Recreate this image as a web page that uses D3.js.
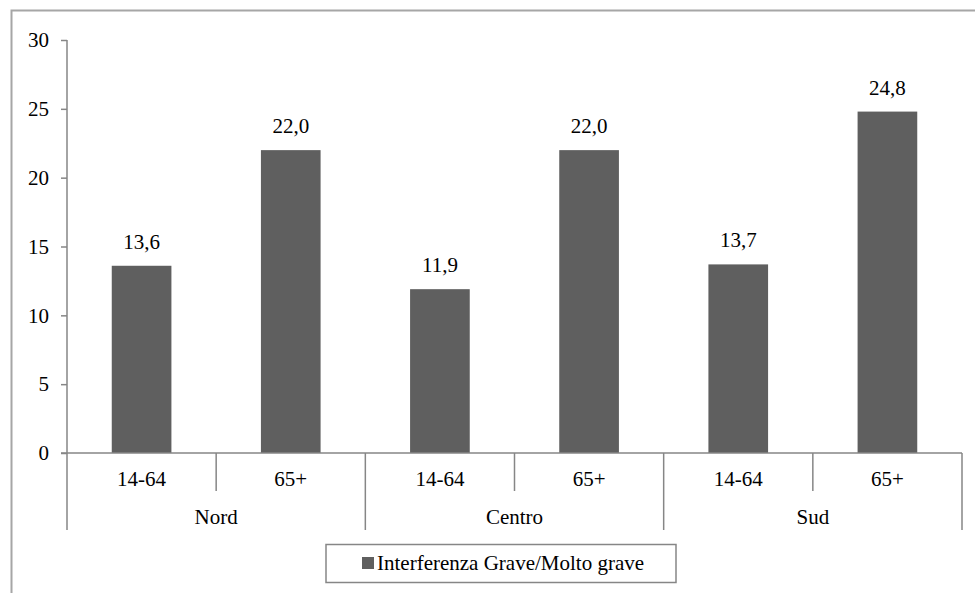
<!DOCTYPE html>
<html>
<head>
<meta charset="utf-8">
<script src="https://cdn.jsdelivr.net/npm/d3@7"></script>
<style>
    body { margin: 0; background: #fff; }
</style>
</head>
<body>
<div class="chart-main"></div>
<script>
//////////
// DATA //
//////////

var groups = ['Nord', 'Centro', 'Sud'];
var ages = ['14-64', '65+'];
var values = [13.6, 22.0, 11.9, 22.0, 13.7, 24.8];
var yTicks = [0, 5, 10, 15, 20, 25, 30];
var seriesName = 'Interferenza Grave/Molto grave';

var FONT = '"Liberation Serif", "Times New Roman", serif';
var FS = '21px';

////////////////
// INITIALIZE //
////////////////

function drawChart() {

    var w = 975,
        h = 593;

    var svg = d3.select('.chart-main')
        .append('svg')
        .attr('width', w)
        .attr('height', h)
        .style('font-family', FONT);

    // outer frame (cut off at right and bottom, as in the source)
    svg.append('rect')
        .attr('x', 11.5)
        .attr('y', 10.5)
        .attr('width', w + 20)
        .attr('height', h + 20)
        .attr('fill', 'none')
        .attr('stroke', '#a6a6a6')
        .attr('stroke-width', 2);

    var left = 67, right = 962, plotTop = 40, zero = 453;

    var cats = [];
    groups.forEach(function(g) {
        ages.forEach(function(a) { cats.push(g + '|' + a); });
    });

    ////////////
    // SCALES //
    ////////////

    var xScale = d3.scaleBand()
        .domain(cats)
        .range([left, right]);

    var yScale = d3.scaleLinear()
        .domain([0, 30])
        .range([zero, plotTop]);

    var axisColor = '#868686';

    //////////
    // BARS //
    //////////

    var barW = xScale.bandwidth() * 0.4;

    svg.selectAll('.bar')
        .data(values)
        .enter()
        .append('rect')
        .attr('class', 'bar')
        .attr('x', function(d, i) { return xScale(cats[i]) + (xScale.bandwidth() - barW) / 2; })
        .attr('y', function(d) { return yScale(d); })
        .attr('width', barW)
        .attr('height', function(d) { return zero - yScale(d); })
        .attr('fill', '#5f5f5f');

    svg.selectAll('.val')
        .data(values)
        .enter()
        .append('text')
        .attr('class', 'val')
        .attr('x', function(d, i) { return xScale(cats[i]) + xScale.bandwidth() / 2; })
        .attr('y', function(d) { return yScale(d) - 17; })
        .attr('text-anchor', 'middle')
        .style('font-size', FS)
        .style('font-family', FONT)
        .text(function(d) { return d.toFixed(1).replace('.', ','); });

    //////////
    // AXIS //
    //////////

    var yAxis = d3.axisLeft(yScale)
        .tickValues(yTicks)
        .tickSize(6)
        .tickPadding(12)
        .tickFormat(d3.format('d'));

    var gy = svg.append('g')
        .attr('transform', 'translate(' + left + ',0)')
        .call(yAxis);

    gy.select('.domain').remove();
    gy.selectAll('line').attr('stroke', axisColor).attr('stroke-width', 1.5);
    gy.selectAll('text')
        .attr('fill', '#000')
        .style('font-size', FS)
        .style('font-family', FONT);

    // vertical axis line down to bottom of group labels
    svg.append('line')
        .attr('x1', left).attr('x2', left)
        .attr('y1', plotTop).attr('y2', 530)
        .attr('stroke', axisColor).attr('stroke-width', 1.5);

    // baseline
    svg.append('line')
        .attr('x1', left - 6).attr('x2', right)
        .attr('y1', zero).attr('y2', zero)
        .attr('stroke', axisColor).attr('stroke-width', 1.5);

    // separators between categories
    cats.forEach(function(c, i) {
        var x = xScale(c) + xScale.bandwidth();
        var isGroupEnd = (i % ages.length) === ages.length - 1;
        svg.append('line')
            .attr('x1', x).attr('x2', x)
            .attr('y1', zero).attr('y2', isGroupEnd ? 530 : 491)
            .attr('stroke', axisColor).attr('stroke-width', 1.5);
    });

    // subcategory labels
    svg.selectAll('.age')
        .data(cats)
        .enter()
        .append('text')
        .attr('class', 'age')
        .attr('x', function(d) { return xScale(d) + xScale.bandwidth() / 2; })
        .attr('y', 486)
        .attr('text-anchor', 'middle')
        .style('font-size', FS)
        .style('font-family', FONT)
        .text(function(d) { return d.split('|')[1]; });

    // group labels
    svg.selectAll('.grp')
        .data(groups)
        .enter()
        .append('text')
        .attr('class', 'grp')
        .attr('x', function(d) { return xScale(d + '|' + ages[0]) + xScale.bandwidth(); })
        .attr('y', 524)
        .attr('text-anchor', 'middle')
        .style('font-size', FS)
        .style('font-family', FONT)
        .text(function(d) { return d; });

    ////////////
    // LEGEND //
    ////////////

    var legend = svg.append('g');

    legend.append('rect')
        .attr('x', 326).attr('y', 544.5)
        .attr('width', 350).attr('height', 38)
        .attr('fill', '#fff')
        .attr('stroke', axisColor).attr('stroke-width', 1.5);

    legend.append('rect')
        .attr('x', 362).attr('y', 557)
        .attr('width', 12).attr('height', 12)
        .attr('fill', '#5f5f5f');

    legend.append('text')
        .attr('x', 377).attr('y', 570)
        .style('font-size', FS)
        .style('font-family', FONT)
        .text(seriesName);
}

drawChart();
</script>
</body>
</html>
